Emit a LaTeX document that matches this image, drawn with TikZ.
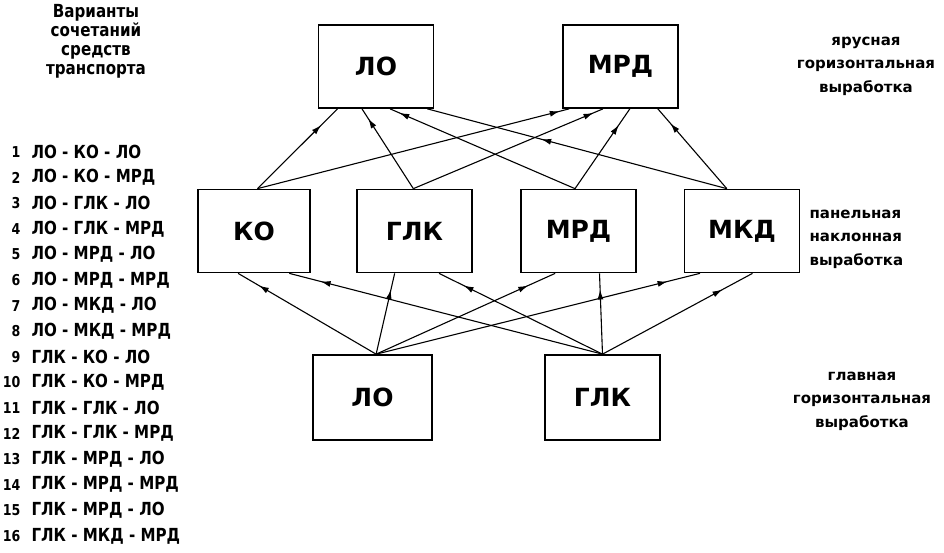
\documentclass[tikz,border=0pt]{standalone}
\usepackage{fontspec}
\setmainfont{DejaVu Sans}
\newfontfamily\narrowface[FakeStretch=0.84]{DejaVu Sans}
\usetikzlibrary{calc, decorations.markings, arrows.meta}

\tikzset{
  unit/.style={draw, line width=1.7pt, minimum width=115pt, minimum height=83pt,
    inner sep=0pt, font=\fontsize{25}{27}\selectfont\bfseries},
  flow/.style={line width=1.1pt, postaction={decorate},
    decoration={markings, mark=at position #1 with {\arrow{Latex[length=10pt,width=6pt]}}}},
  flow/.default=0.8,
  caption/.style={align=center, font=\fontsize{15}{23.5}\selectfont\bfseries},
  numlabel/.style={anchor=east, font=\narrowface\fontsize{15}{17}\selectfont\bfseries},
  variant/.style={anchor=west, font=\narrowface\fontsize{18}{20}\selectfont\bfseries},
}

\begin{document}
\begin{tikzpicture}[x=1pt, y=-1pt]
\useasboundingbox (0,0) rectangle (944,552);

% levels: tier drift, panel incline, main drift
\node[unit] (tLO)  at (376,66.5)  {ЛО};
\node[unit] (tMRD) at (620.5,66.5) {МРД};

\node[unit, minimum width=112pt] (mKO)  at (254,231)   {КО};
\node[unit] (mGLK) at (414.5,231) {ГЛК};
\node[unit] (mMRD) at (578.5,231) {МРД};
\node[unit] (mMKD) at (742,231)   {МКД};

\node[unit, minimum width=119pt, minimum height=85pt] (bLO)  at (372.5,397.5) {ЛО};
\node[unit, minimum height=85pt] (bGLK) at (602.5,397.5) {ГЛК};

% panel incline -> tier drift
\draw[flow=0.8]  ($(mKO.north west)!.53!(mKO.north east)$)   -- ($(tLO.south west)!.17!(tLO.south east)$);
\draw[flow=0.97] ($(mKO.north west)!.53!(mKO.north east)$)   -- ($(tMRD.south west)!.06!(tMRD.south east)$);
\draw[flow=0.88] ($(mGLK.north west)!.49!(mGLK.north east)$) -- ($(tLO.south west)!.38!(tLO.south east)$);
\draw[flow=0.95] ($(mGLK.north west)!.49!(mGLK.north east)$) -- ($(tMRD.south west)!.35!(tMRD.south east)$);
\draw[flow=0.95] ($(mMRD.north west)!.47!(mMRD.north east)$) -- ($(tLO.south west)!.62!(tLO.south east)$);
\draw[flow=0.8]  ($(mMRD.north west)!.47!(mMRD.north east)$) -- ($(tMRD.south west)!.58!(tMRD.south east)$);
\draw[flow=0.62] ($(mMKD.north west)!.37!(mMKD.north east)$) -- ($(tLO.south west)!.94!(tLO.south east)$);
\draw[flow=0.82] ($(mMKD.north west)!.37!(mMKD.north east)$) -- ($(tMRD.south west)!.82!(tMRD.south east)$);

% main drift -> panel incline
\draw[flow=0.85] ($(bLO.north west)!.53!(bLO.north east)$) -- ($(mKO.south west)!.36!(mKO.south east)$);
\draw[flow=0.8]  ($(bLO.north west)!.53!(bLO.north east)$) -- ($(mGLK.south west)!.33!(mGLK.south east)$);
\draw[flow=0.85] ($(bLO.north west)!.53!(bLO.north east)$) -- ($(mMRD.south west)!.30!(mMRD.south east)$);
\draw[flow=0.9]  ($(bLO.north west)!.53!(bLO.north east)$) -- ($(mMKD.south west)!.14!(mMKD.south east)$);
\draw[flow=0.9]  ($(bGLK.north west)!.5!(bGLK.north east)$) -- ($(mKO.south west)!.81!(mKO.south east)$);
\draw[flow=0.85] ($(bGLK.north west)!.5!(bGLK.north east)$) -- ($(mGLK.south west)!.71!(mGLK.south east)$);
\draw[flow=0.8]  ($(bGLK.north west)!.5!(bGLK.north east)$) -- ($(mMRD.south west)!.68!(mMRD.south east)$);
\draw[flow=0.8]  ($(bGLK.north west)!.5!(bGLK.north east)$) -- ($(mMKD.south west)!.59!(mMKD.south east)$);

% level captions
\node[caption] (capTop) at (866,66)  {ярусная\\горизонтальная\\выработка};
\node[caption, align=left, anchor=west] (capMid) at (806,239) {панельная\\наклонная\\выработка};
\node[caption] (capBot) at (862,401) {главная\\горизонтальная\\выработка};

% list of transport combinations
\node[caption, font=\narrowface\fontsize{18}{19}\selectfont\bfseries] (listHead) at (96,41)
  {Варианты\\сочетаний\\средств\\транспорта};

\foreach \i/\txt in {
  1/{ЛО - КО - ЛО}, 2/{ЛО - КО - МРД}, 3/{ЛО - ГЛК - ЛО}, 4/{ЛО - ГЛК - МРД},
  5/{ЛО - МРД - ЛО}, 6/{ЛО - МРД - МРД}, 7/{ЛО - МКД - ЛО}, 8/{ЛО - МКД - МРД},
  9/{ГЛК - КО - ЛО}, 10/{ГЛК - КО - МРД}, 11/{ГЛК - ГЛК - ЛО}, 12/{ГЛК - ГЛК - МРД},
  13/{ГЛК - МРД - ЛО}, 14/{ГЛК - МРД - МРД}, 15/{ГЛК - МРД - ЛО}, 16/{ГЛК - МКД - МРД}}{
  \node[numlabel] (num\i) at (24,{152+25.6*(\i-1)}) {\i};
  \node[variant] (var\i) at (28,{152+25.6*(\i-1)}) {\txt};
}
\end{tikzpicture}
\end{document}
